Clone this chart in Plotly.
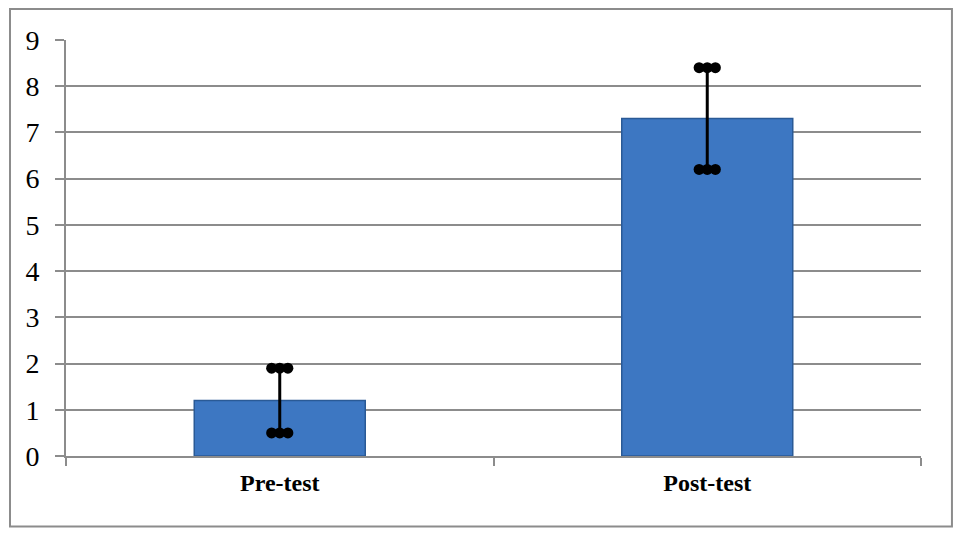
import plotly.graph_objects as go

categories = ["Pre-test", "Post-test"]
means = [1.2, 7.3]
errors = [0.7, 1.1]
y_ticks = [0, 1, 2, 3, 4, 5, 6, 7, 8, 9]

GRID = "#8c8c8c"
BAR = "#3d77c2"
BAR_EDGE = "#2a5a96"
SERIF = "Liberation Serif, Times New Roman, serif"

fig = go.Figure()

fig.add_trace(go.Bar(
    x=categories, y=means, width=0.4,
    marker=dict(color=BAR, line=dict(color=BAR_EDGE, width=1.5)),
    error_y=dict(type="data", array=errors, visible=True,
                 color="black", thickness=3, width=0),
    showlegend=False, hoverinfo="skip",
))

# Error-bar end caps drawn as three dots (on an overlaid numeric axis)
dot_offsets = [-0.019, 0.0, 0.019]
dx, dy = [], []
for i, (m, e) in enumerate(zip(means, errors)):
    for end in (m + e, m - e):
        for off in dot_offsets:
            dx.append(i + off)
            dy.append(end)
fig.add_trace(go.Scatter(
    x=dx, y=dy, mode="markers", xaxis="x2",
    marker=dict(color="black", size=11, line=dict(width=0)),
    showlegend=False, hoverinfo="skip",
))

fig.update_layout(
    width=953, height=528,
    margin=dict(l=58, r=40, t=32, b=80),
    paper_bgcolor="white", plot_bgcolor="white",
    font=dict(family=SERIF, color="black"),
    xaxis=dict(
        type="category", tickson="boundaries",
        ticks="outside", ticklen=8, tickwidth=2, tickcolor=GRID,
        showline=True, linecolor=GRID, linewidth=2,
        showgrid=False, zeroline=False,
        tickfont=dict(size=24, family=SERIF, weight="bold", color="black"),
        ticklabelstandoff=4,
        range=[-0.5, 1.5],
    ),
    xaxis2=dict(overlaying="x", range=[-0.5, 1.5], visible=False, type="linear"),
    yaxis=dict(
        range=[0, 9], tickvals=y_ticks,
        ticks="outside", ticklen=9, tickwidth=2, tickcolor=GRID,
        showline=True, linecolor=GRID, linewidth=2,
        showgrid=True, gridcolor=GRID, gridwidth=2,
        zeroline=False,
        tickfont=dict(size=28, family=SERIF, color="black"),
        ticklabelstandoff=10,
    ),
    shapes=[dict(
        type="rect", xref="paper", yref="paper",
        x0=-0.0655, x1=1.0362, y0=-0.1695, y1=1.0745,
        line=dict(color=GRID, width=2), fillcolor="rgba(0,0,0,0)", layer="below",
    )],
)

fig.write_html("out.html")
